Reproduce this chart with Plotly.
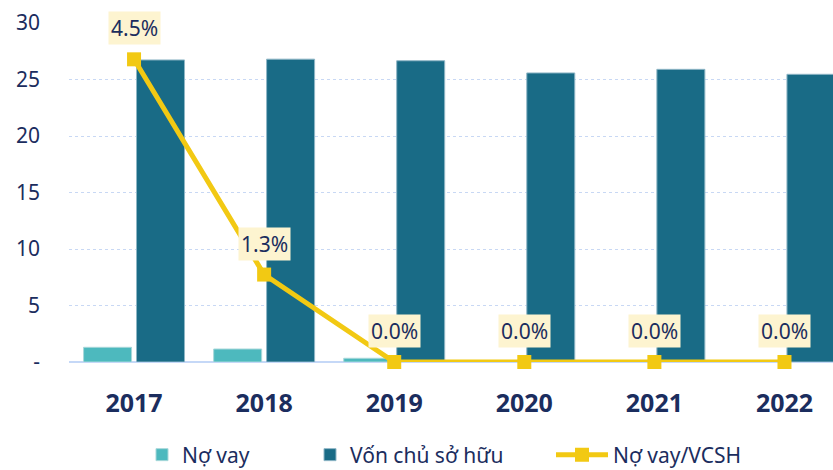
import plotly.graph_objects as go

years = ["2017", "2018", "2019", "2020", "2021", "2022"]
no_vay = [1.3, 1.15, 0.33, 0.0, 0.0, 0.0]
von_csh = [26.73, 26.8, 26.66, 25.58, 25.9, 25.46]
ratio = [0.045, 0.013, 0.0, 0.0, 0.0, 0.0]
y_ticks = [0, 5, 10, 15, 20, 25, 30]
y_ticktext = ["-", "5", "10", "15", "20", "25", "30"]

NAVY = "#1b2d5e"
LIGHT = "#4db9be"
DARK = "#196b86"
YELLOW = "#f2c913"
FONT = "Noto Sans"

fig = go.Figure()
fig.add_trace(go.Bar(
    x=years, y=no_vay, name="Nợ vay", legend="legend",
    marker=dict(color=LIGHT, line=dict(color="#a8d8da", width=1)),
    width=0.369, offset=-0.388,
))
fig.add_trace(go.Bar(
    x=years, y=von_csh, name="Vốn chủ sở hữu", legend="legend2",
    marker=dict(color=DARK, line=dict(color="#8fb6c6", width=1)),
    width=0.369, offset=0.019,
))
fig.add_trace(go.Scatter(
    x=years, y=ratio, name="Nợ vay/VCSH", yaxis="y2", legend="legend3",
    mode="lines+markers",
    line=dict(color=YELLOW, width=5),
    marker=dict(symbol="square", size=14, color=YELLOW),
    cliponaxis=False,
))

for i, r in enumerate(ratio):
    fig.add_annotation(
        x=i, y=r, xref="x", yref="y2",
        text=f"{r*100:.1f}%",
        showarrow=False, yanchor="middle", yshift=31,
        bgcolor="#fdf4d0", borderpad=2,
        font=dict(family=FONT, size=21, color=NAVY),
    )

W, H = 833, 470


def lx(px):
    return px / W


leg_common = dict(
    orientation="h", yref="container", xref="container",
    yanchor="middle", y=(H - 455) / H, xanchor="left",
    font=dict(family=FONT, size=21, color=NAVY),
    bgcolor="rgba(0,0,0,0)",
)

fig.update_layout(
    width=W, height=H,
    margin=dict(l=69, r=0, t=23, b=108, autoexpand=False),
    paper_bgcolor="white", plot_bgcolor="white",
    barmode="overlay",
    font=dict(family=FONT, color=NAVY),
    showlegend=True,
    legend=dict(x=lx(142), **leg_common),
    legend2=dict(x=lx(310), **leg_common),
    legend3=dict(x=lx(551), itemwidth=52, **leg_common),
    xaxis=dict(
        type="category", range=[-0.5, 5.373],
        showgrid=False, showline=False, ticks="",
        tickfont=dict(family=FONT, size=25, color=NAVY, weight="bold"),
        ticklabelstandoff=24,
    ),
    yaxis=dict(
        range=[0, 30], tickvals=y_ticks, ticktext=y_ticktext,
        showgrid=True, gridcolor="#c8d8f4", griddash="dot", gridwidth=1,
        zeroline=True, zerolinecolor="#c5d8f7", zerolinewidth=2,
        showline=False, ticks="",
        tickfont=dict(family=FONT, size=21, color=NAVY),
        ticklabelstandoff=28,
    ),
    yaxis2=dict(
        overlaying="y", side="right", range=[0, 0.0504],
        showgrid=False, zeroline=False, showline=False,
        showticklabels=False, ticks="",
    ),
)

fig.write_html(
    "out.html",
    config={"displayModeBar": False},
    post_script="document.body.style.margin='0';document.body.style.overflow='hidden';",
)
